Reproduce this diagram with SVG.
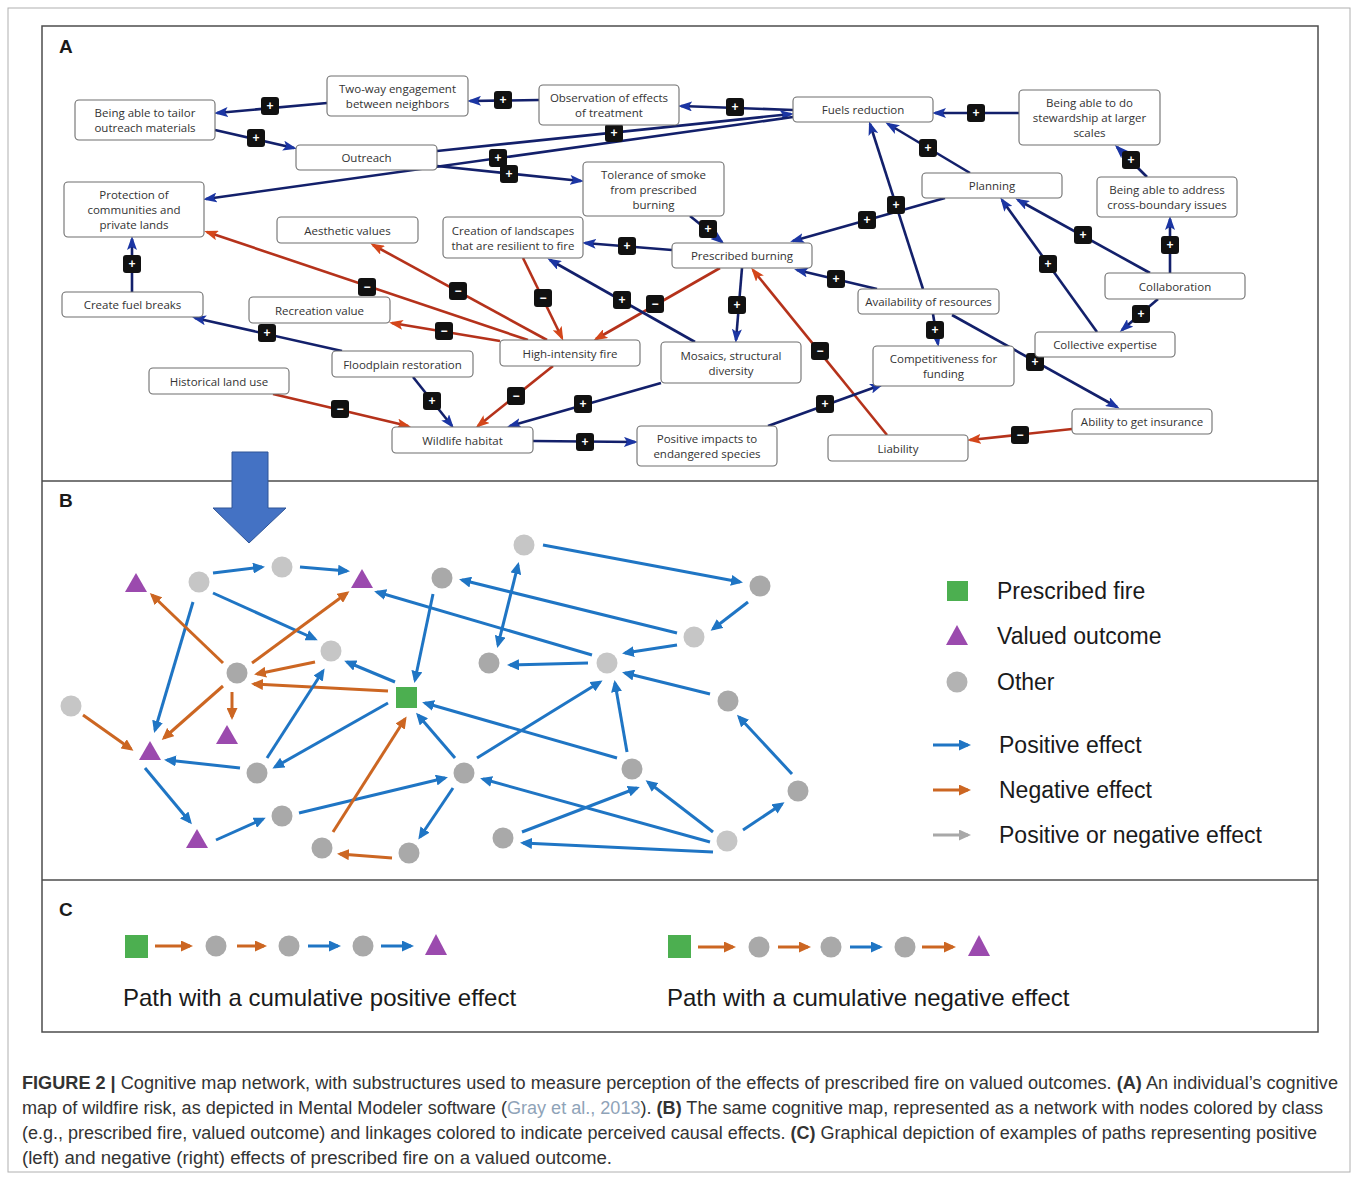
<svg xmlns="http://www.w3.org/2000/svg" width="1357" height="1178" viewBox="0 0 1357 1178">
<style>
.frame{fill:none;stroke:#4d4d4d;stroke-width:1.5}
.nb{fill:#fff;stroke:#6e6e6e;stroke-width:1.1}
.nt{font-family:"Open Sans","Liberation Sans",sans-serif;font-size:11.5px;fill:#333;text-anchor:middle;dominant-baseline:central}
.ab{stroke:#13206b;stroke-width:2.6;fill:none;marker-end:url(#mAb)}
.ar{stroke:#b5321b;stroke-width:2.6;fill:none;marker-end:url(#mAr)}
.sg rect{fill:#111;}
.sg text{font-family:"Liberation Sans",sans-serif;font-weight:bold;font-size:12px;fill:#fff;text-anchor:middle;dominant-baseline:central}
.bb{stroke:#1f75c4;stroke-width:3;fill:none;marker-end:url(#mBb)}
.bo{stroke:#cc6622;stroke-width:3;fill:none;marker-end:url(#mBo)}
.bg{stroke:#a8a8a8;stroke-width:3;fill:none;marker-end:url(#mBg)}
.cl{fill:#c6c6c6}
.cd{fill:#a9a9a9}
.tri{fill:#9b4aae}
.sq{fill:#4caf50}
.lg{font-family:"Liberation Sans",sans-serif;font-size:23px;fill:#1a1a1a}
.pc{font-family:"Liberation Sans",sans-serif;font-size:24px;fill:#1a1a1a}
.pl{font-family:"Liberation Sans",sans-serif;font-size:19px;font-weight:bold;fill:#1a1a1a}
.cap{font-family:"Liberation Sans",sans-serif;font-size:17.5px;fill:#333}
.lnk{fill:#8fa3b8}
</style>
<defs>
<marker id="mAb" markerUnits="userSpaceOnUse" markerWidth="14" markerHeight="10" refX="11" refY="5" orient="auto"><path d="M0,0 L14,5 L0,10 L3,5 z" fill="#1b35a3"/></marker>
<marker id="mAr" markerUnits="userSpaceOnUse" markerWidth="14" markerHeight="10" refX="11" refY="5" orient="auto"><path d="M0,0 L14,5 L0,10 L3,5 z" fill="#d4461a"/></marker>
<marker id="mBb" markerUnits="userSpaceOnUse" markerWidth="12" markerHeight="11" refX="9" refY="5.5" orient="auto-start-reverse"><path d="M0,0 L12,5.5 L0,11 z" fill="#1f75c4"/></marker>
<marker id="mBo" markerUnits="userSpaceOnUse" markerWidth="12" markerHeight="11" refX="9" refY="5.5" orient="auto"><path d="M0,0 L12,5.5 L0,11 z" fill="#cc6622"/></marker>
<marker id="mBg" markerUnits="userSpaceOnUse" markerWidth="12" markerHeight="11" refX="9" refY="5.5" orient="auto"><path d="M0,0 L12,5.5 L0,11 z" fill="#a8a8a8"/></marker>
</defs>
<rect width="1357" height="1178" fill="#fff"/>
<rect x="8" y="8" width="1342" height="1164" fill="none" stroke="#b0b0b0" stroke-width="1"/>
<rect class="frame" x="42" y="26" width="1276" height="1006"/>
<line class="frame" x1="42" y1="481" x2="1318" y2="481"/>
<line class="frame" x1="42" y1="880" x2="1318" y2="880"/>
<text class="pl" x="59" y="53">A</text>
<text class="pl" x="59" y="507">B</text>
<text class="pl" x="59" y="916">C</text>

<g id="connectors-A">
<line class="ab" x1="327" y1="103" x2="217" y2="113"/>
<line class="ab" x1="539" y1="100" x2="470" y2="101"/>
<line class="ab" x1="793" y1="110" x2="681" y2="106"/>
<line class="ab" x1="215" y1="130" x2="294" y2="148"/>
<line class="ab" x1="437" y1="151" x2="791" y2="114"/>
<line class="ab" x1="793" y1="117" x2="206" y2="199"/>
<line class="ab" x1="437" y1="166" x2="581" y2="181"/>
<line class="ab" x1="690" y1="216" x2="722" y2="242"/>
<line class="ab" x1="672" y1="250" x2="585" y2="243"/>
<line class="ab" x1="945" y1="198" x2="793" y2="241"/>
<line class="ab" x1="923" y1="289" x2="870" y2="124"/>
<line class="ab" x1="970" y1="173" x2="888" y2="124"/>
<line class="ab" x1="1019" y1="113" x2="935" y2="113"/>
<line class="ab" x1="1147" y1="177" x2="1117" y2="147"/>
<line class="ab" x1="1170" y1="273" x2="1170" y2="219"/>
<line class="ab" x1="1150" y1="273" x2="1018" y2="200"/>
<line class="ab" x1="1097" y1="332" x2="1002" y2="200"/>
<line class="ab" x1="1158" y1="299" x2="1122" y2="330"/>
<line class="ab" x1="877" y1="289" x2="797" y2="270"/>
<line class="ab" x1="933" y1="314" x2="938" y2="344"/>
<line class="ab" x1="952" y1="315" x2="1117" y2="407"/>
<line class="ar" x1="1072" y1="429" x2="970" y2="440"/>
<line class="ar" x1="887" y1="435" x2="753" y2="270"/>
<line class="ab" x1="768" y1="426" x2="881" y2="385"/>
<line class="ab" x1="533" y1="441" x2="635" y2="442"/>
<line class="ab" x1="661" y1="383" x2="510" y2="426"/>
<line class="ar" x1="553" y1="366" x2="478" y2="426"/>
<line class="ab" x1="413" y1="377" x2="452" y2="426"/>
<line class="ar" x1="273" y1="394" x2="408" y2="426"/>
<line class="ab" x1="342" y1="351" x2="195" y2="318"/>
<line class="ab" x1="132" y1="292" x2="132" y2="239"/>
<line class="ar" x1="500" y1="341" x2="392" y2="323"/>
<line class="ar" x1="528" y1="340" x2="207" y2="232"/>
<line class="ar" x1="547" y1="340" x2="373" y2="245"/>
<line class="ar" x1="523" y1="258" x2="562" y2="338"/>
<line class="ar" x1="720" y1="268" x2="596" y2="339"/>
<line class="ab" x1="695" y1="342" x2="550" y2="260"/>
<line class="ab" x1="742" y1="268" x2="736" y2="340"/>
<g class="sg">
<rect x="261" y="97" width="18" height="18" rx="3"/><text x="270" y="106">+</text>
<rect x="494" y="91" width="18" height="18" rx="3"/><text x="503" y="100">+</text>
<rect x="726" y="98" width="18" height="18" rx="3"/><text x="735" y="107">+</text>
<rect x="247" y="129" width="18" height="18" rx="3"/><text x="256" y="138">+</text>
<rect x="605" y="124" width="18" height="18" rx="3"/><text x="614" y="133">+</text>
<rect x="489" y="149" width="18" height="18" rx="3"/><text x="498" y="158">+</text>
<rect x="500" y="165" width="18" height="18" rx="3"/><text x="509" y="174">+</text>
<rect x="699" y="220" width="18" height="18" rx="3"/><text x="708" y="229">+</text>
<rect x="618" y="237" width="18" height="18" rx="3"/><text x="627" y="246">+</text>
<rect x="858" y="211" width="18" height="18" rx="3"/><text x="867" y="220">+</text>
<rect x="887" y="196" width="18" height="18" rx="3"/><text x="896" y="205">+</text>
<rect x="919" y="139" width="18" height="18" rx="3"/><text x="928" y="148">+</text>
<rect x="967" y="104" width="18" height="18" rx="3"/><text x="976" y="113">+</text>
<rect x="1122" y="151" width="18" height="18" rx="3"/><text x="1131" y="160">+</text>
<rect x="1161" y="236" width="18" height="18" rx="3"/><text x="1170" y="245">+</text>
<rect x="1074" y="226" width="18" height="18" rx="3"/><text x="1083" y="235">+</text>
<rect x="1039" y="255" width="18" height="18" rx="3"/><text x="1048" y="264">+</text>
<rect x="1132" y="305" width="18" height="18" rx="3"/><text x="1141" y="314">+</text>
<rect x="827" y="270" width="18" height="18" rx="3"/><text x="836" y="279">+</text>
<rect x="926" y="321" width="18" height="18" rx="3"/><text x="935" y="330">+</text>
<rect x="1026" y="353" width="18" height="18" rx="3"/><text x="1035" y="362">+</text>
<rect x="1011" y="426" width="18" height="18" rx="3"/><text x="1020" y="435">−</text>
<rect x="811" y="342" width="18" height="18" rx="3"/><text x="820" y="351">−</text>
<rect x="816" y="395" width="18" height="18" rx="3"/><text x="825" y="404">+</text>
<rect x="576" y="433" width="18" height="18" rx="3"/><text x="585" y="442">+</text>
<rect x="574" y="395" width="18" height="18" rx="3"/><text x="583" y="404">+</text>
<rect x="507" y="387" width="18" height="18" rx="3"/><text x="516" y="396">−</text>
<rect x="423" y="392" width="18" height="18" rx="3"/><text x="432" y="401">+</text>
<rect x="331" y="400" width="18" height="18" rx="3"/><text x="340" y="409">−</text>
<rect x="258" y="324" width="18" height="18" rx="3"/><text x="267" y="333">+</text>
<rect x="123" y="255" width="18" height="18" rx="3"/><text x="132" y="264">+</text>
<rect x="435" y="322" width="18" height="18" rx="3"/><text x="444" y="331">−</text>
<rect x="358" y="278" width="18" height="18" rx="3"/><text x="367" y="287">−</text>
<rect x="449" y="282" width="18" height="18" rx="3"/><text x="458" y="291">−</text>
<rect x="534" y="289" width="18" height="18" rx="3"/><text x="543" y="298">−</text>
<rect x="646" y="295" width="18" height="18" rx="3"/><text x="655" y="304">−</text>
<rect x="613" y="291" width="18" height="18" rx="3"/><text x="622" y="300">+</text>
<rect x="728" y="296" width="18" height="18" rx="3"/><text x="737" y="305">+</text>
</g>
</g>

<g id="n-tailor"><rect class="nb" x="75" y="100" width="140" height="40" rx="4"/><text class="nt" x="145" y="112.5">Being able to tailor</text><text class="nt" x="145" y="127.5">outreach materials</text></g>
<g id="n-twoway"><rect class="nb" x="327" y="76" width="141" height="40" rx="4"/><text class="nt" x="397.5" y="88.5">Two-way engagement</text><text class="nt" x="397.5" y="103.5">between neighbors</text></g>
<g id="n-outreach"><rect class="nb" x="296" y="145" width="141" height="25" rx="4"/><text class="nt" x="366.5" y="157.5">Outreach</text></g>
<g id="n-protection"><rect class="nb" x="64" y="182" width="140" height="55" rx="4"/><text class="nt" x="134" y="194.5">Protection of</text><text class="nt" x="134" y="209.5">communities and</text><text class="nt" x="134" y="224.5">private lands</text></g>
<g id="n-aesthetic"><rect class="nb" x="277" y="217" width="141" height="26" rx="4"/><text class="nt" x="347.5" y="230">Aesthetic values</text></g>
<g id="n-creation"><rect class="nb" x="443" y="217" width="140" height="41" rx="4"/><text class="nt" x="513" y="230">Creation of landscapes</text><text class="nt" x="513" y="245">that are resilient to fire</text></g>
<g id="n-observation"><rect class="nb" x="539" y="85" width="140" height="40" rx="4"/><text class="nt" x="609" y="97.5">Observation of effects</text><text class="nt" x="609" y="112.5">of treatment</text></g>
<g id="n-fuels"><rect class="nb" x="793" y="97" width="140" height="25" rx="4"/><text class="nt" x="863" y="109.5">Fuels reduction</text></g>
<g id="n-tolerance"><rect class="nb" x="583" y="162" width="141" height="54" rx="4"/><text class="nt" x="653.5" y="174">Tolerance of smoke</text><text class="nt" x="653.5" y="189">from prescribed</text><text class="nt" x="653.5" y="204">burning</text></g>
<g id="n-prescribed"><rect class="nb" x="672" y="243" width="140" height="25" rx="4"/><text class="nt" x="742" y="255.5">Prescribed burning</text></g>
<g id="n-stewardship"><rect class="nb" x="1019" y="90" width="141" height="55" rx="4"/><text class="nt" x="1089.5" y="102.5">Being able to do</text><text class="nt" x="1089.5" y="117.5">stewardship at larger</text><text class="nt" x="1089.5" y="132.5">scales</text></g>
<g id="n-planning"><rect class="nb" x="922" y="173" width="140" height="25" rx="4"/><text class="nt" x="992" y="185.5">Planning</text></g>
<g id="n-crossboundary"><rect class="nb" x="1097" y="177" width="140" height="40" rx="4"/><text class="nt" x="1167" y="189.5">Being able to address</text><text class="nt" x="1167" y="204.5">cross-boundary issues</text></g>
<g id="n-firebreaks"><rect class="nb" x="62" y="292" width="141" height="25" rx="4"/><text class="nt" x="132.5" y="304.5">Create fuel breaks</text></g>
<g id="n-recreation"><rect class="nb" x="249" y="297" width="141" height="26" rx="4"/><text class="nt" x="319.5" y="310">Recreation value</text></g>
<g id="n-floodplain"><rect class="nb" x="332" y="351" width="141" height="26" rx="4"/><text class="nt" x="402.5" y="364">Floodplain restoration</text></g>
<g id="n-historical"><rect class="nb" x="149" y="368" width="140" height="26" rx="4"/><text class="nt" x="219" y="381">Historical land use</text></g>
<g id="n-wildlife"><rect class="nb" x="392" y="427" width="141" height="26" rx="4"/><text class="nt" x="462.5" y="440">Wildlife habitat</text></g>
<g id="n-highint"><rect class="nb" x="500" y="340" width="140" height="26" rx="4"/><text class="nt" x="570" y="353">High-intensity fire</text></g>
<g id="n-mosaics"><rect class="nb" x="661" y="342" width="140" height="41" rx="4"/><text class="nt" x="731" y="355">Mosaics, structural</text><text class="nt" x="731" y="370">diversity</text></g>
<g id="n-posimpacts"><rect class="nb" x="637" y="426" width="140" height="40" rx="4"/><text class="nt" x="707" y="438.5">Positive impacts to</text><text class="nt" x="707" y="453.5">endangered species</text></g>
<g id="n-availability"><rect class="nb" x="858" y="289" width="141" height="25" rx="4"/><text class="nt" x="928.5" y="301.5">Availability of resources</text></g>
<g id="n-collaboration"><rect class="nb" x="1105" y="273" width="140" height="26" rx="4"/><text class="nt" x="1175" y="286">Collaboration</text></g>
<g id="n-collective"><rect class="nb" x="1035" y="332" width="140" height="25" rx="4"/><text class="nt" x="1105" y="344.5">Collective expertise</text></g>
<g id="n-competitiveness"><rect class="nb" x="873" y="346" width="141" height="40" rx="4"/><text class="nt" x="943.5" y="358.5">Competitiveness for</text><text class="nt" x="943.5" y="373.5">funding</text></g>
<g id="n-insurance"><rect class="nb" x="1072" y="409" width="140" height="25" rx="4"/><text class="nt" x="1142" y="421.5">Ability to get insurance</text></g>
<g id="n-liability"><rect class="nb" x="828" y="435" width="140" height="26" rx="4"/><text class="nt" x="898" y="448">Liability</text></g>

<g id="big-arrow"><polygon points="232,452 268,452 268,508 286,508 249,543 213,508 232,508" fill="#4472c4" stroke="#2f5597" stroke-width="1"/></g>

<g id="connectors-B">
<line class="bb" x1="213" y1="573" x2="262" y2="567"/>
<line class="bb" x1="300" y1="567" x2="347" y2="571"/>
<line class="bb" x1="213" y1="593" x2="315" y2="639"/>
<line class="bb" x1="193" y1="602" x2="155" y2="730"/>
<line class="bo" x1="223" y1="663" x2="152" y2="595"/>
<line class="bo" x1="252" y1="663" x2="347" y2="593"/>
<line class="bo" x1="315" y1="662" x2="257" y2="674"/>
<line class="bo" x1="388" y1="691" x2="254" y2="684"/>
<line class="bo" x1="232" y1="692" x2="232" y2="717"/>
<line class="bo" x1="223" y1="686" x2="164" y2="738"/>
<line class="bo" x1="83" y1="715" x2="131" y2="749"/>
<line class="bb" x1="395" y1="682" x2="347" y2="662"/>
<line class="bb" x1="267" y1="758" x2="323" y2="671"/>
<line class="bb" x1="388" y1="703" x2="275" y2="767"/>
<line class="bb" x1="240" y1="768" x2="167" y2="760"/>
<line class="bb" x1="145" y1="768" x2="190" y2="822"/>
<line class="bb" x1="216" y1="840" x2="263" y2="819"/>
<line class="bb" x1="299" y1="813" x2="445" y2="778"/>
<line class="bo" x1="333" y1="832" x2="405" y2="719"/>
<line class="bo" x1="392" y1="858" x2="340" y2="854"/>
<line class="bb" x1="455" y1="758" x2="418" y2="715"/>
<line class="bb" x1="453" y1="788" x2="420" y2="837"/>
<line class="bb" x1="433" y1="594" x2="415" y2="680"/>
<line class="bb" x1="592" y1="655" x2="377" y2="592"/>
<line class="bb" x1="677" y1="633" x2="462" y2="580"/>
<line class="bb" x1="518" y1="565" x2="498" y2="645" marker-start="url(#mBb)"/>
<line class="bb" x1="543" y1="545" x2="740" y2="582"/>
<line class="bb" x1="748" y1="602" x2="713" y2="629"/>
<line class="bb" x1="677" y1="645" x2="625" y2="653"/>
<line class="bb" x1="588" y1="663" x2="510" y2="665"/>
<line class="bb" x1="710" y1="694" x2="625" y2="673"/>
<line class="bb" x1="477" y1="758" x2="600" y2="682"/>
<line class="bb" x1="627" y1="752" x2="615" y2="683"/>
<line class="bb" x1="617" y1="758" x2="425" y2="703"/>
<line class="bb" x1="710" y1="842" x2="483" y2="779"/>
<line class="bb" x1="522" y1="832" x2="637" y2="788"/>
<line class="bb" x1="713" y1="832" x2="648" y2="782"/>
<line class="bb" x1="713" y1="852" x2="523" y2="843"/>
<line class="bb" x1="743" y1="830" x2="782" y2="804"/>
<line class="bb" x1="792" y1="774" x2="739" y2="717"/>
</g>

<g id="nodes-B">
<g id="b-c1"><circle class="cl" cx="199" cy="582" r="10.5"/></g>
<g id="b-c2"><circle class="cl" cx="282" cy="567" r="10.5"/></g>
<g id="b-c3"><circle class="cd" cx="442" cy="578" r="10.5"/></g>
<g id="b-c4"><circle class="cl" cx="331" cy="651" r="10.5"/></g>
<g id="b-c5"><circle class="cd" cx="237" cy="673" r="10.5"/></g>
<g id="b-c6"><circle class="cl" cx="71" cy="706" r="10.5"/></g>
<g id="b-c7"><circle class="cd" cx="257" cy="773" r="10.5"/></g>
<g id="b-c8"><circle class="cd" cx="464" cy="773" r="10.5"/></g>
<g id="b-c9"><circle class="cd" cx="282" cy="816" r="10.5"/></g>
<g id="b-c10"><circle class="cd" cx="322" cy="848" r="10.5"/></g>
<g id="b-c11"><circle class="cd" cx="409" cy="853" r="10.5"/></g>
<g id="b-c12"><circle class="cd" cx="489" cy="663" r="10.5"/></g>
<g id="b-c13"><circle class="cl" cx="524" cy="545" r="10.5"/></g>
<g id="b-c14"><circle class="cd" cx="760" cy="586" r="10.5"/></g>
<g id="b-c15"><circle class="cl" cx="694" cy="637" r="10.5"/></g>
<g id="b-c16"><circle class="cl" cx="607" cy="663" r="10.5"/></g>
<g id="b-c17"><circle class="cd" cx="728" cy="701" r="10.5"/></g>
<g id="b-c18"><circle class="cd" cx="632" cy="769" r="10.5"/></g>
<g id="b-c19"><circle class="cd" cx="798" cy="791" r="10.5"/></g>
<g id="b-c20"><circle class="cd" cx="503" cy="838" r="10.5"/></g>
<g id="b-c21"><circle class="cl" cx="727" cy="841" r="10.5"/></g>
<g id="b-t1"><polygon class="tri" points="136,573 147,592 125,592"/></g>
<g id="b-t2"><polygon class="tri" points="362,569 373,588 351,588"/></g>
<g id="b-t3"><polygon class="tri" points="150,741 161,760 139,760"/></g>
<g id="b-t4"><polygon class="tri" points="227,725 238,744 216,744"/></g>
<g id="b-t5"><polygon class="tri" points="197,829 208,848 186,848"/></g>
<g id="b-sq"><rect class="sq" x="396" y="687" width="21" height="21"/></g>
</g>

<g id="legend">
<rect class="sq" x="947" y="581" width="21" height="20"/>
<text class="lg" x="997" y="599">Prescribed fire</text>
<polygon class="tri" points="957,625 968,645 946,645"/>
<text class="lg" x="997" y="644">Valued outcome</text>
<circle class="cl" cx="957" cy="682" r="10.5" style="fill:#b3b3b3"/>
<text class="lg" x="997" y="690">Other</text>
<line class="bb" x1="933" y1="745" x2="968" y2="745"/>
<text class="lg" x="999" y="753">Positive effect</text>
<line class="bo" x1="933" y1="790" x2="968" y2="790"/>
<text class="lg" x="999" y="798">Negative effect</text>
<line class="bg" x1="933" y1="835" x2="968" y2="835"/>
<text class="lg" x="999" y="843">Positive or negative effect</text>
</g>

<g id="panel-C">
<rect class="sq" x="125" y="935" width="23" height="23"/>
<line class="bo" x1="155" y1="946" x2="190" y2="946"/>
<circle class="cd" cx="216" cy="946" r="10.5"/>
<line class="bo" x1="237" y1="946" x2="264" y2="946"/>
<circle class="cd" cx="289" cy="946" r="10.5"/>
<line class="bb" x1="308" y1="946" x2="338" y2="946"/>
<circle class="cd" cx="363" cy="946" r="10.5"/>
<line class="bb" x1="381" y1="946" x2="411" y2="946"/>
<polygon class="tri" points="436,934 447,955 425,955"/>
<text class="pc" x="123" y="1006">Path with a cumulative positive effect</text>
<rect class="sq" x="668" y="935" width="23" height="23"/>
<line class="bo" x1="698" y1="947" x2="733" y2="947"/>
<circle class="cd" cx="759" cy="947" r="10.5"/>
<line class="bo" x1="778" y1="947" x2="808" y2="947"/>
<circle class="cd" cx="831" cy="947" r="10.5"/>
<line class="bb" x1="850" y1="947" x2="880" y2="947"/>
<circle class="cd" cx="905" cy="947" r="10.5"/>
<line class="bo" x1="922" y1="947" x2="953" y2="947"/>
<polygon class="tri" points="979,935 990,956 968,956"/>
<text class="pc" x="667" y="1006">Path with a cumulative negative effect</text>
</g>

<g id="caption">
<text class="cap" x="22" y="1089" textLength="1316" lengthAdjust="spacingAndGlyphs"><tspan font-weight="bold">FIGURE 2 |</tspan> Cognitive map network, with substructures used to measure perception of the effects of prescribed fire on valued outcomes. <tspan font-weight="bold">(A)</tspan> An individual’s cognitive</text>
<text class="cap" x="22" y="1114" textLength="1301" lengthAdjust="spacingAndGlyphs">map of wildfire risk, as depicted in Mental Modeler software (<tspan class="lnk">Gray et al., 2013</tspan>). <tspan font-weight="bold">(B)</tspan> The same cognitive map, represented as a network with nodes colored by class</text>
<text class="cap" x="22" y="1139" textLength="1295" lengthAdjust="spacingAndGlyphs">(e.g., prescribed fire, valued outcome) and linkages colored to indicate perceived causal effects. <tspan font-weight="bold">(C)</tspan> Graphical depiction of examples of paths representing positive</text>
<text class="cap" x="22" y="1164" textLength="590" lengthAdjust="spacingAndGlyphs">(left) and negative (right) effects of prescribed fire on a valued outcome.</text>
</g>
</svg>
